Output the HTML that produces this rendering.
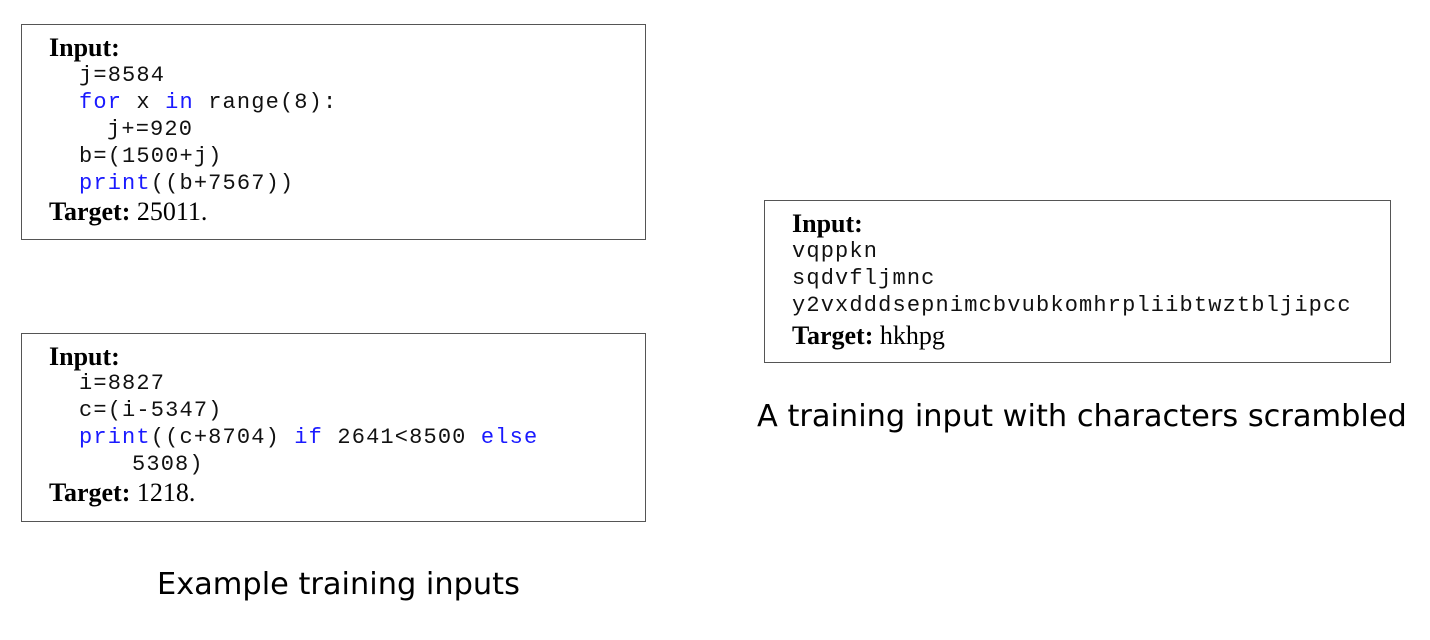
<!DOCTYPE html>
<html><head><style>
body{margin:0;width:1430px;height:640px;background:#fff;position:relative;overflow:hidden}
.box{position:absolute;border:1px solid #555;box-sizing:border-box}
.l{position:absolute;white-space:pre;line-height:28px;height:28px}
.s{font-family:"Liberation Serif",serif;font-size:26px;color:#000}
.m{font-family:"Liberation Mono",monospace;font-size:22px;letter-spacing:1.15px;color:#111}
.k{color:#1a1aff}
.cap{position:absolute;font-family:"DejaVu Sans","Liberation Sans",sans-serif;font-size:30.4px;white-space:nowrap}
</style></head><body>
<div class="box" style="left:21px;top:24px;width:625px;height:216px"></div>
<div class="box" style="left:21px;top:333px;width:625px;height:189px"></div>
<div class="box" style="left:764px;top:200px;width:627px;height:163px"></div>

<div class="l s" style="left:49px;top:34px"><b>Input:</b></div>
<div class="l m" style="left:79px;top:62px">j=8584</div>
<div class="l m" style="left:79px;top:89px"><span class="k">for</span> x <span class="k">in</span> range(8):</div>
<div class="l m" style="left:107px;top:116px">j+=920</div>
<div class="l m" style="left:79px;top:143px">b=(1500+j)</div>
<div class="l m" style="left:79px;top:170px"><span class="k">print</span>((b+7567))</div>
<div class="l s" style="left:49px;top:198px"><b>Target:</b> 25011.</div>

<div class="l s" style="left:49px;top:343px"><b>Input:</b></div>
<div class="l m" style="left:79px;top:370px">i=8827</div>
<div class="l m" style="left:79px;top:397px">c=(i-5347)</div>
<div class="l m" style="left:79px;top:424px"><span class="k">print</span>((c+8704) <span class="k">if</span> 2641&lt;8500 <span class="k">else</span></div>
<div class="l m" style="left:132px;top:451px">5308)</div>
<div class="l s" style="left:49px;top:479px"><b>Target:</b> 1218.</div>

<div class="l s" style="left:792px;top:210px"><b>Input:</b></div>
<div class="l m" style="left:792px;top:238px">vqppkn</div>
<div class="l m" style="left:792px;top:265px">sqdvfljmnc</div>
<div class="l m" style="left:792px;top:292px">y2vxdddsepnimcbvubkomhrpliibtwztbljipcc</div>
<div class="l s" style="left:792px;top:322px"><b>Target:</b> hkhpg</div>

<div class="cap" style="left:157px;top:567px">Example training inputs</div>
<div class="cap" style="left:757px;top:399px">A training input with characters scrambled</div>
</body></html>
